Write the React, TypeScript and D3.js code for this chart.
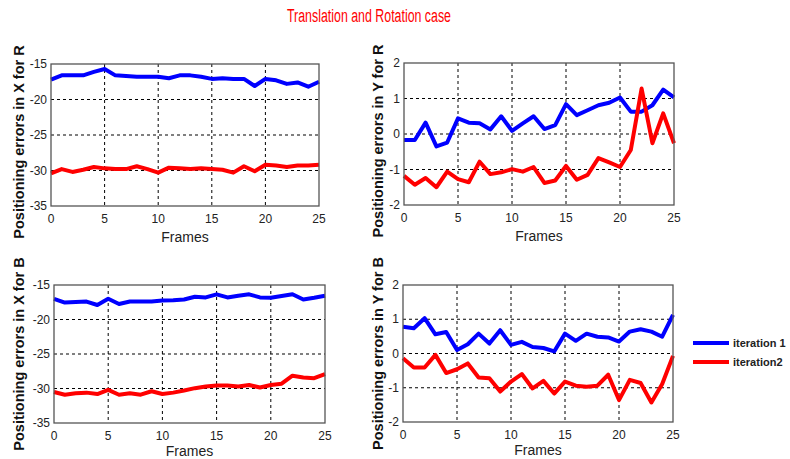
import React from "react";
import * as d3 from "d3";

const frames = d3.range(0, 26);

const xrIter1 = [-17.2, -16.6, -16.6, -16.6, -16.1, -15.7, -16.6, -16.7, -16.8, -16.8, -16.8, -17.0, -16.6, -16.6, -16.8, -17.1, -17.0, -17.1, -17.1, -18.1, -17.1, -17.3, -17.8, -17.6, -18.2, -17.5];
const xrIter2 = [-30.4, -29.8, -30.2, -29.9, -29.5, -29.7, -29.8, -29.8, -29.4, -29.8, -30.3, -29.6, -29.7, -29.8, -29.7, -29.8, -29.9, -30.3, -29.4, -30.1, -29.2, -29.3, -29.5, -29.3, -29.3, -29.2];

const yrIter1 = [-0.17, -0.17, 0.32, -0.35, -0.24, 0.44, 0.32, 0.3, 0.13, 0.5, 0.09, 0.3, 0.5, 0.14, 0.25, 0.84, 0.53, 0.67, 0.81, 0.88, 1.03, 0.63, 0.63, 0.81, 1.25, 1.03];
const yrIter2 = [-1.18, -1.43, -1.24, -1.5, -1.06, -1.27, -1.36, -0.78, -1.13, -1.08, -0.99, -1.06, -0.93, -1.38, -1.31, -0.9, -1.29, -1.15, -0.68, -0.8, -0.93, -0.45, 1.28, -0.26, 0.58, -0.26];

const xbIter1 = [-17.0, -17.55, -17.45, -17.4, -17.9, -17.0, -17.75, -17.4, -17.4, -17.4, -17.25, -17.2, -17.1, -16.7, -16.8, -16.35, -16.8, -16.55, -16.35, -16.8, -16.85, -16.6, -16.35, -17.1, -16.85, -16.55];
const xbIter2 = [-30.5, -30.9, -30.7, -30.6, -30.8, -30.2, -30.9, -30.7, -30.9, -30.4, -30.8, -30.6, -30.3, -29.95, -29.7, -29.55, -29.55, -29.7, -29.5, -29.85, -29.5, -29.3, -28.15, -28.4, -28.5, -27.9];

const ybIter1 = [0.78, 0.74, 1.03, 0.56, 0.63, 0.1, 0.27, 0.58, 0.29, 0.68, 0.25, 0.34, 0.19, 0.16, 0.06, 0.58, 0.37, 0.58, 0.49, 0.47, 0.35, 0.64, 0.71, 0.64, 0.49, 1.13];
const ybIter2 = [-0.14, -0.41, -0.41, -0.04, -0.57, -0.46, -0.29, -0.7, -0.72, -1.11, -0.82, -0.6, -1.02, -0.8, -1.17, -0.82, -0.94, -0.97, -0.94, -0.62, -1.36, -0.77, -0.86, -1.43, -0.89, -0.07];

const xTicks = [0, 5, 10, 15, 20, 25];
const xErrTicks = [-35, -30, -25, -20, -15];
const yErrTicks = [-2, -1, 0, 1, 2];

const seriesNames = ["iteration 1", "iteration2"];
const seriesColors = ["#0000ff", "#ff0000"];

const title = "Translation and Rotation case";
const xLabel = "Frames";

type PanelCfg = {
  left: number; right: number; top: number; bottom: number;
  domain: [number, number]; ticks: number[];
  s1: number[]; s2: number[]; ylabel: string; ylabelX: number; ylabelDy: number; xlabelDy: number;
};

const panels: PanelCfg[] = [
  { left: 51, right: 319, top: 64, bottom: 206, domain: [-35, -15], ticks: xErrTicks, s1: xrIter1, s2: xrIter2, ylabel: "Positioning errors in X for R", ylabelX: 24, ylabelDy: 7, xlabelDy: 36 },
  { left: 404, right: 674, top: 63, bottom: 205, domain: [-2, 2], ticks: yErrTicks, s1: yrIter1, s2: yrIter2, ylabel: "Positioning errors in Y for R", ylabelX: 383, ylabelDy: 7, xlabelDy: 36 },
  { left: 54, right: 325, top: 285, bottom: 423, domain: [-35, -15], ticks: xErrTicks, s1: xbIter1, s2: xbIter2, ylabel: "Positioning errors in X for B", ylabelX: 24, ylabelDy: 0, xlabelDy: 33 },
  { left: 403, right: 673, top: 285, bottom: 422, domain: [-2, 2], ticks: yErrTicks, s1: ybIter1, s2: ybIter2, ylabel: "Positioning errors in Y for B", ylabelX: 383, ylabelDy: 0, xlabelDy: 33 },
];

const FONT = "Liberation Sans, Arial, sans-serif";

function Panel({ p }: { p: PanelCfg }) {
  const x = d3.scaleLinear().domain([0, 25]).range([p.left, p.right]);
  const y = d3.scaleLinear().domain(p.domain).range([p.bottom, p.top]);
  const line = d3.line<number>().x((_, i) => x(frames[i])).y((d) => y(d));
  const cy = (p.top + p.bottom) / 2;
  return (
    <g>
      <rect x={p.left} y={p.top} width={p.right - p.left} height={p.bottom - p.top} fill="#fff" />
      {xTicks.slice(1, -1).map((t) => (
        <line key={"gx" + t} x1={x(t)} x2={x(t)} y1={p.top} y2={p.bottom} stroke="#000" strokeWidth={1} strokeDasharray="3,3" />
      ))}
      {p.ticks.slice(1, -1).map((t) => (
        <line key={"gy" + t} x1={p.left} x2={p.right} y1={y(t)} y2={y(t)} stroke="#000" strokeWidth={1} strokeDasharray="3,3" />
      ))}
      <path d={line(p.s1) || ""} fill="none" stroke={seriesColors[0]} strokeWidth={4} strokeLinejoin="round" />
      <path d={line(p.s2) || ""} fill="none" stroke={seriesColors[1]} strokeWidth={4} strokeLinejoin="round" />
      <rect x={p.left} y={p.top} width={p.right - p.left} height={p.bottom - p.top} fill="none" stroke="#555" strokeWidth={1.3} />
      {xTicks.map((t) => (
        <text key={"tx" + t} x={x(t)} y={p.bottom + 17} textAnchor="middle" fontSize={12} fontFamily={FONT} fill="#222">{t}</text>
      ))}
      {p.ticks.map((t) => (
        <text key={"ty" + t} x={p.left - 4} y={y(t) + 4} textAnchor="end" fontSize={12} fontFamily={FONT} fill="#222">{t}</text>
      ))}
      <text x={(p.left + p.right) / 2} y={p.bottom + p.xlabelDy} textAnchor="middle" fontSize={14} fontFamily={FONT} fill="#222">{xLabel}</text>
      <text transform={`translate(${p.ylabelX},${cy + p.ylabelDy}) rotate(-90)`} textAnchor="middle" fontSize={14.5} fontWeight="bold" fontFamily={FONT} fill="#111">{p.ylabel}</text>
    </g>
  );
}

export default function App() {
  return (
    <svg width={790} height={459} style={{ position: "absolute", left: 0, top: 0, background: "#fff" }}>
      <rect width={790} height={459} fill="#fff" />
      <text x={287} y={22} fontSize={18} fontFamily={FONT} fill="#ff0000" textLength={164} lengthAdjust="spacingAndGlyphs">{title}</text>
      {panels.map((p, i) => <Panel key={i} p={p} />)}
      {seriesNames.map((n, i) => (
        <g key={n}>
          <line x1={693} x2={729} y1={343 + i * 19} y2={343 + i * 19} stroke={seriesColors[i]} strokeWidth={4} />
          <text x={733} y={347 + i * 19} fontSize={11} fontWeight="bold" fontFamily={FONT} fill="#222">{n}</text>
        </g>
      ))}
    </svg>
  );
}
